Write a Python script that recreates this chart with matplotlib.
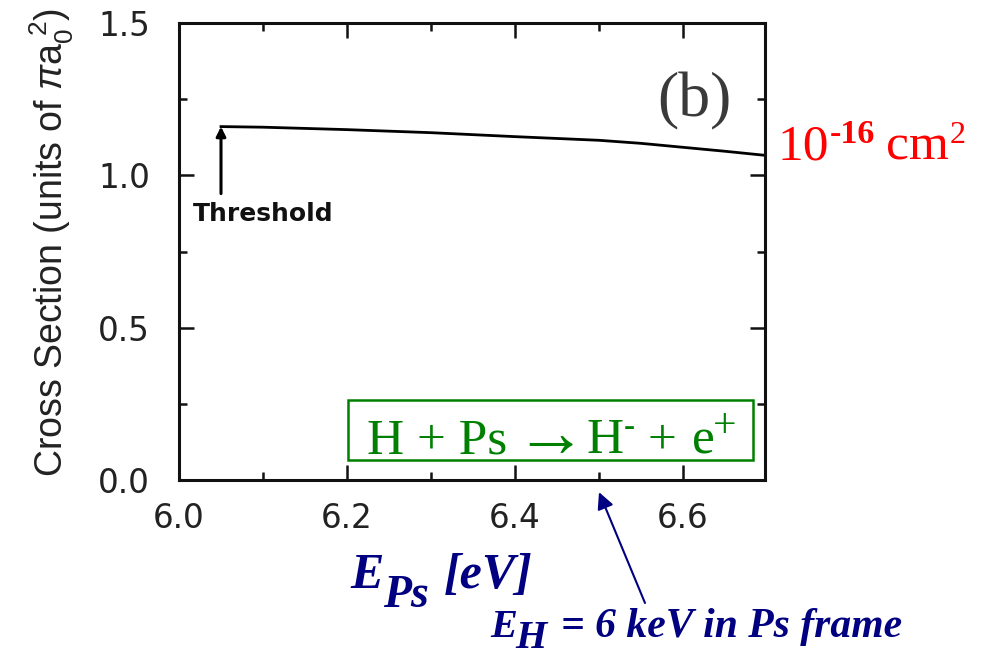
import matplotlib
matplotlib.use("Agg")
import matplotlib.pyplot as plt
from matplotlib.ticker import MultipleLocator
from matplotlib.patches import Rectangle

# ---- data ----
energy = [6.05, 6.10, 6.20, 6.30, 6.40, 6.50, 6.55, 6.60, 6.65, 6.70]
cross_section = [1.160, 1.158, 1.150, 1.140, 1.127, 1.115, 1.105, 1.092, 1.079, 1.065]
threshold_energy = 6.05
threshold_base = 0.94
x_ticks = [6.0, 6.2, 6.4, 6.6]
x_tick_labels = ["6.0", "6.2", "6.4", "6.6"]
y_ticks = [0.0, 0.5, 1.0, 1.5]
y_tick_labels = ["0.0", "0.5", "1.0", "1.5"]
eh_energy = 6.5

plt.rcParams['mathtext.fontset'] = 'custom'
plt.rcParams['mathtext.rm'] = 'Liberation Sans'
plt.rcParams['mathtext.it'] = 'Liberation Sans:italic'

W, H = 986, 659
fig = plt.figure(figsize=(W / 100, H / 100), dpi=100)
fig.patch.set_facecolor('white')
ax = fig.add_axes([179 / W, 1 - 480 / H, (765 - 179) / W, (480 - 23) / H])

SERIF = ['Liberation Serif', 'DejaVu Serif']


def put(s, x_px, base_px, size, **kw):
    """Place a text piece with its left edge / baseline at pixel coords (top-left origin)."""
    return fig.text(x_px / W, 1 - base_px / H, s, fontsize=size, ha='left', va='baseline', **kw)


ax.plot(energy, cross_section, color='black', lw=2.0, solid_joinstyle='miter')
ax.annotate('', xy=(threshold_energy, cross_section[0]), xytext=(threshold_energy, threshold_base),
            arrowprops=dict(arrowstyle='-|>', color='black', lw=2.2, mutation_scale=14,
                            shrinkA=0, shrinkB=0))
ax.text(6.0167, 0.914, 'Threshold', fontsize=18, fontweight='bold', family='DejaVu Sans',
        ha='left', va='top', color='#111111')

ax.set_xlim(6.0, 6.6976)
ax.set_ylim(0.0, 1.5)
ax.set_xticks(x_ticks)
ax.set_xticklabels(x_tick_labels)
ax.set_yticks(y_ticks)
ax.set_yticklabels(y_tick_labels)
ax.xaxis.set_minor_locator(MultipleLocator(0.1))
ax.yaxis.set_minor_locator(MultipleLocator(0.25))
ax.tick_params(which='both', direction='in', top=True, right=True, width=1.8, color='#111111')
ax.tick_params(which='major', length=11, labelsize=23.5, labelcolor='#222222')
ax.tick_params(which='minor', length=6)
ax.tick_params(axis='x', which='major', pad=16)
ax.tick_params(axis='y', which='major', pad=21)
for lab in ax.get_xticklabels() + ax.get_yticklabels():
    lab.set_family('DejaVu Sans')
for s in ax.spines.values():
    s.set_linewidth(2.2)
    s.set_color('#111111')

fig.text(52 / W, 1 - 242 / H, r'Cross Section (units of $\pi$a$_0^{\ 2}$)', rotation=90,
         fontsize=27, family='Liberation Sans', color='#222222', ha='center', va='center')

# (b) label
fig.text(694 / W, 1 - 101 / H, '(b)', fontsize=46, family=SERIF, color='#3a3a3a',
         ha='center', va='center')

# red units
red = '#ff0000'
put('10', 778, 160, 37, family=SERIF, color=red)
put('-16', 830, 143, 24.5, family=SERIF, color=red, fontweight='bold')
put('cm', 886, 160, 37, family=SERIF, color=red)
put('2', 950, 143, 23, family=SERIF, color=red)

# green reaction box
green = '#008000'
fig.add_artist(Rectangle((348 / W, 1 - 460 / H), (753 - 348) / W, (460 - 400) / H,
                         transform=fig.transFigure, facecolor='white', edgecolor=green, lw=1.8))
put('H + Ps', 367, 453, 37, family=SERIF, color=green)
put('\u2192', 514, 456, 52, family=SERIF, color=green)
put('H', 587, 453, 37, family=SERIF, color=green)
put('-', 624, 436, 24, family=SERIF, color=green)
put('+', 648, 453, 37, family=SERIF, color=green)
put('e', 692, 453, 37, family=SERIF, color=green)
put('+', 713, 437, 30, family=SERIF, color=green)

navy = '#000080'
bi = dict(family=SERIF, fontweight='bold', fontstyle='italic', color=navy)
# E_Ps label
put('E', 350, 588, 36, **bi)
put('Ps', 383, 607, 33, **bi)
put('[eV]', 444, 588, 36, **bi)
# E_H label
put('E', 490, 637, 29, **bi)
put('H', 515, 648, 29, **bi)
put('= 6 keV in Ps frame', 561, 637, 30, **bi)

ax.annotate('', xy=(eh_energy, -0.04), xycoords='data',
            xytext=(645 / W, 1 - 603 / H), textcoords='figure fraction',
            arrowprops=dict(arrowstyle='-|>', color=navy, lw=1.5, mutation_scale=25,
                            shrinkA=0, shrinkB=0), annotation_clip=False)

fig.savefig('out.png', dpi=100, facecolor='white')
